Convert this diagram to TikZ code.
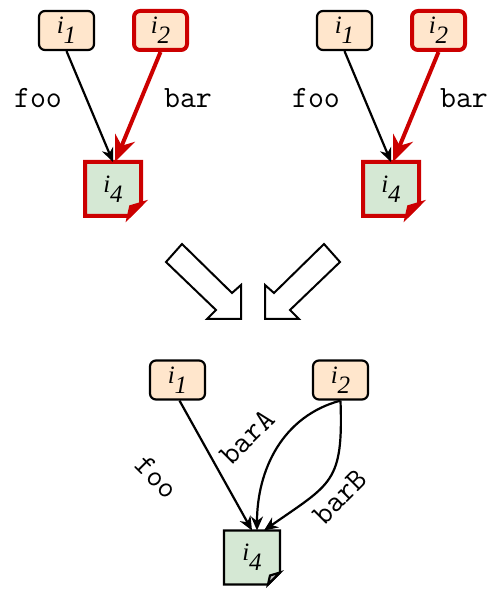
\documentclass[tikz,border=0pt]{standalone}
\usepackage{fontspec}
\setmainfont{Liberation Serif}
\usepackage{tikz}
\usetikzlibrary{arrows.meta,backgrounds}

\definecolor{peach}{RGB}{255,230,204}
\definecolor{sage}{RGB}{213,232,212}
\definecolor{hot}{RGB}{204,0,0}

\newcommand{\iv}[1]{\textit{i}\raisebox{-10pt}{\textit{#1}}}
% document shape with folded corner, drawn behind node #1
\newcommand{\docshape}[3]{%
  \begin{pgfonlayer}{background}
  \filldraw[fill=sage,#2] (#1.north west) -- (#1.north east) -- ([yshift=12pt]#1.south east)
     -- ([xshift=-12pt]#1.south east) -- (#1.south west) -- cycle;
  \filldraw[fill=#3,#2] ([yshift=12pt]#1.south east) -- ([xshift=-10pt,yshift=9pt]#1.south east)
     -- ([xshift=-12pt]#1.south east) -- cycle;
  \end{pgfonlayer}}

\tikzset{
  inp/.style={draw, fill=peach, rounded corners=6pt, line width=2.2pt, minimum width=55pt,
     minimum height=39pt, inner sep=0pt, font=\fontsize{25}{26}\selectfont},
  hotbox/.style={inp, draw=hot, line width=4pt, minimum width=53pt},
  doc/.style={minimum width=56pt, minimum height=54pt, inner sep=0pt, outer sep=0pt,
     font=\fontsize{25}{26}\selectfont},
  lbl/.style={font=\fontsize{31}{32}\selectfont\ttfamily},
  arr/.style={-{Stealth[length=14pt,width=12pt]}, line width=2.2pt},
  hotarr/.style={-{Stealth[length=26pt,width=21pt]}, draw=hot, line width=4pt},
  blk/.style={line width=2pt, line join=miter}
}

\begin{document}
\begin{tikzpicture}[x=1pt,y=1pt]
  \useasboundingbox (0,0) rectangle (491,590);

  % left input
  \draw (66.5,559.5) node[inp] (l1) {\iv{1}};
  \draw (160.5,559.5) node[hotbox] (l2) {\iv{2}};
  \draw (113,401) node[doc] (l4) {\iv{4}};
  \docshape{l4}{draw=hot,line width=4pt,line join=miter}{hot}
  \draw (38,492) node[lbl] (lf) {foo};
  \draw (188,492) node[lbl] (lb) {bar};
  \draw[arr] (l1.south) -- (l4.north);
  \draw[hotarr] (l2.south) -- ([xshift=2pt]l4.north);

  % right input
  \draw (344.5,559.5) node[inp] (r1) {\iv{1}};
  \draw (438.5,559.5) node[hotbox] (r2) {\iv{2}};
  \draw (391,401) node[doc] (r4) {\iv{4}};
  \docshape{r4}{draw=hot,line width=4pt,line join=miter}{hot}
  \draw (316,492) node[lbl] (rf) {foo};
  \draw (464,492) node[lbl] (rb) {bar};
  \draw[arr] (r1.south) -- (r4.north);
  \draw[hotarr] (r2.south) -- ([xshift=2pt]r4.north);

  % merge arrows
  \draw[blk] (166,328) -- (182,346) -- (232,297) -- (241,305) -- (241,271) -- (207,271) -- (216,280) -- cycle;
  \draw[blk] (340,328) -- (324,346) -- (274,297) -- (265,305) -- (265,271) -- (299,271) -- (290,280) -- cycle;

  % merged result
  \draw (177.5,210) node[inp] (m1) {\iv{1}};
  \draw (340.5,210) node[inp] (m2) {\iv{2}};
  \draw (252,32.5) node[doc] (m4) {\iv{4}};
  \docshape{m4}{draw=black,line width=2.2pt,line join=miter}{black!25}
  \draw (157,113) node[lbl,rotate=-45] (mf) {foo};
  \draw (247,153) node[lbl,rotate=45] (ma) {barA};
  \draw (340,93) node[lbl,rotate=45] (mb) {barB};
  \draw[arr] ([xshift=2pt]m1.south) -- (m4.north);
  \draw[arr] (m2.south) to[out=195,in=90] ([xshift=5pt]m4.north);
  \draw[arr] (m2.south) to[out=-88,in=35,looseness=1.4] ([xshift=12pt]m4.north);
\end{tikzpicture}
\end{document}
